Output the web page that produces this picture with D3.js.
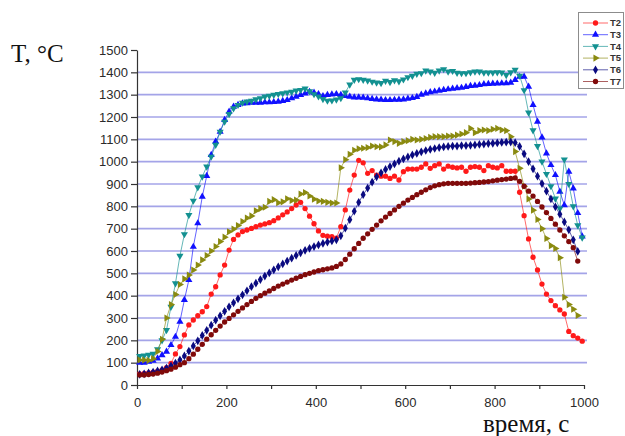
<!DOCTYPE html>
<html>
<head>
<meta charset="utf-8">
<script src="https://cdn.jsdelivr.net/npm/d3@7"></script>
<style>
  html, body { margin: 0; padding: 0; background: #fff; }
  svg { display: block; }
</style>
</head>
<body>
<svg id="chart" width="625" height="436"></svg>
<script>
// Sample times, s
const time = [
  6, 16, 26, 36, 46, 56, 66, 76, 86, 96,
  106, 116, 126, 136, 146, 156, 166, 176, 186, 196,
  206, 216, 226, 236, 246, 256, 266, 276, 286, 296,
  306, 316, 326, 336, 346, 356, 366, 376, 386, 396,
  406, 416, 426, 436, 446, 456, 466, 476, 486, 496,
  506, 516, 526, 536, 546, 556, 566, 576, 586, 596,
  606, 616, 626, 636, 646, 656, 666, 676, 686, 696,
  706, 716, 726, 736, 746, 756, 766, 776, 786, 796,
  806, 816, 826, 836, 846, 856, 866, 876, 886, 896,
  906, 916, 926, 936, 946, 956, 966, 976, 986, 996
];

// Thermocouple readings, °C
const T2 = [
  50, 52, 54, 57, 62, 68, 78, 97, 139, 172,
  224, 269, 291, 310, 328, 351, 407, 440, 493, 537,
  604, 652, 672, 687, 694, 701, 709, 716, 721, 727,
  736, 748, 762, 775, 790, 806, 818, 790, 756, 722,
  690, 670, 666, 664, 658, 709, 784, 873, 940, 1006,
  995, 948, 960, 940, 935, 935, 925, 935, 918, 955,
  967, 967, 967, 975, 990, 970, 982, 990, 967, 980,
  975, 972, 975, 957, 975, 978, 975, 960, 982, 975,
  972, 982, 957, 957, 957, 863, 758, 654, 572, 515,
  452, 407, 378, 355, 336, 318, 240, 221, 210, 196
];
const T3 = [
  100, 100, 104, 109, 119, 134, 149, 179, 216, 284,
  381, 470, 619, 724, 843, 936, 1030, 1090, 1134, 1187,
  1224, 1246, 1254, 1261, 1262, 1264, 1264, 1264, 1266, 1266,
  1267, 1269, 1272, 1276, 1284, 1291, 1299, 1306, 1313, 1309,
  1303, 1294, 1299, 1301, 1303, 1299, 1294, 1291, 1288, 1288,
  1287, 1284, 1281, 1279, 1278, 1276, 1276, 1277, 1278, 1279,
  1282, 1285, 1290, 1300, 1306, 1311, 1314, 1318, 1321, 1324,
  1327, 1329, 1331, 1335, 1339, 1340, 1343, 1347, 1348, 1349,
  1350, 1351, 1351, 1354, 1366, 1380, 1381, 1336, 1254, 1179,
  1109, 1037, 985, 940, 866, 805, 955, 880, 770, 665
];
const T4 = [
  130, 132, 135, 140, 160, 200, 246, 350, 455, 578,
  675, 761, 825, 885, 933, 978, 1022, 1075, 1134, 1179,
  1213, 1239, 1254, 1264, 1269, 1272, 1279, 1284, 1291, 1295,
  1299, 1303, 1306, 1310, 1313, 1318, 1321, 1327, 1315, 1302,
  1292, 1280, 1273, 1274, 1278, 1284, 1310, 1345, 1366, 1369,
  1366, 1363, 1358, 1354, 1352, 1362, 1356, 1364, 1360, 1368,
  1378, 1384, 1393, 1396, 1408, 1403, 1398, 1408, 1414, 1403,
  1406, 1398, 1396, 1396, 1400, 1403, 1403, 1399, 1399, 1399,
  1400, 1399, 1388, 1400, 1411, 1385, 1320, 1220, 1140, 1070,
  1000, 945, 890, 835, 790, 1010, 900, 800, 715, 660
];
const T5 = [
  112, 112, 110, 118, 150, 205, 300, 360, 405, 450,
  475, 492, 515, 537, 560, 580, 600, 620, 642, 662,
  686, 698, 714, 732, 748, 757, 780, 790, 796, 822,
  830, 816, 820, 834, 826, 828, 855, 862, 846, 832,
  824, 822, 818, 815, 815, 973, 1009, 1033, 1051, 1058,
  1060, 1063, 1070, 1067, 1066, 1075, 1097, 1090, 1082, 1090,
  1094, 1100, 1097, 1100, 1104, 1109, 1112, 1112, 1112, 1115,
  1115, 1119, 1124, 1130, 1149, 1130, 1139, 1142, 1139, 1145,
  1149, 1142, 1139, 1112, 1045, 970, 890, 833, 783, 741,
  700, 656, 624, 611, 570, 393, 360, 339, 311
];
const T6 = [
  48, 50, 54, 58, 63, 68, 76, 86, 98, 112,
  130, 152, 175, 198, 222, 245, 268, 290, 310, 330,
  350, 368, 386, 404, 422, 440, 456, 472, 488, 502,
  516, 529, 542, 555, 568, 580, 592, 603, 612, 620,
  627, 634, 640, 645, 650, 668, 702, 740, 778, 818,
  852, 882, 908, 932, 950, 965, 978, 990, 1002, 1012,
  1021, 1030, 1037, 1044, 1050, 1055, 1059, 1063, 1066, 1068,
  1070, 1070, 1072, 1072, 1073, 1075, 1077, 1079, 1081, 1082,
  1084, 1086, 1087, 1088, 1085, 1068, 1035, 1000, 968, 935,
  902, 868, 833, 798, 765, 730, 695, 650, 598
];
const T7 = [
  45, 45, 47, 49, 53, 58, 64, 71, 80, 91,
  100, 118, 138, 160, 182, 205, 225, 245, 264, 282,
  298, 314, 330, 345, 360, 374, 388, 400, 411, 421,
  432, 443, 452, 461, 470, 478, 486, 494, 500, 506,
  512, 516, 520, 524, 531, 542, 562, 586, 610, 634,
  657, 677, 697, 716, 735, 752, 768, 784, 800, 814,
  828, 840, 852, 863, 874, 884, 892, 897, 901, 903,
  903, 903, 903, 903, 904, 906, 907, 909, 911, 914,
  917, 920, 922, 925, 927, 912, 890, 868, 846, 822,
  797, 772, 746, 720, 694, 668, 642, 615, 555
];

const seriesNames = ["T2", "T3", "T4", "T5", "T6", "T7"];
const seriesValues = [T2, T3, T4, T5, T6, T7];
const seriesColors = ["#ff1a1a", "#1010ff", "#139191", "#8a8a10", "#0a0a80", "#800a0a"];
const seriesShapes = ["circle", "triUp", "triDown", "triRight", "diamond", "circle"];

const yTicks = d3.range(0, 1501, 100);
const xTicks = d3.range(0, 1001, 100);
const gridValues = d3.range(100, 1401, 100);

const svg = d3.select("#chart");
const x = d3.scaleLinear().domain([0, 1000]).range([137, 584]);
const y = d3.scaleLinear().domain([0, 1500]).range([385, 50]);

// horizontal grid
svg.append("g")
  .selectAll("line")
  .data(gridValues)
  .join("line")
  .attr("x1", x(0)).attr("x2", x(1000) + 3)
  .attr("y1", d => y(d)).attr("y2", d => y(d))
  .attr("stroke", "#a4a4e8")
  .attr("stroke-width", 1.6);

// axes
const axisFont = "'Liberation Sans', Arial, sans-serif";
const yAxis = svg.append("g")
  .attr("transform", `translate(${x(0)},0)`)
  .call(d3.axisLeft(y).tickValues(yTicks).tickSize(6).tickSizeOuter(0).tickPadding(3)
    .tickFormat(d3.format("d")));
const xAxis = svg.append("g")
  .attr("transform", `translate(0,${y(0)})`)
  .call(d3.axisBottom(x).tickValues(xTicks).tickSize(4).tickSizeOuter(0).tickPadding(9)
    .tickFormat(d => d % 200 === 0 ? String(d) : ""));
[yAxis, xAxis].forEach(g => {
  g.select(".domain").attr("stroke", "#333").attr("stroke-width", 1.2);
  g.selectAll(".tick line").attr("stroke", "#333").attr("stroke-width", 1.2);
  g.selectAll(".tick text")
    .attr("fill", "#2a2a2a")
    .style("font-family", axisFont)
    .style("font-size", "13px");
});

// marker shapes
function symbolFor(shape) {
  switch (shape) {
    case "circle": return { type: d3.symbolCircle, size: 22, rot: 0 };
    case "triUp": return { type: d3.symbolTriangle, size: 22, rot: 0 };
    case "triDown": return { type: d3.symbolTriangle, size: 22, rot: 180 };
    case "triRight": return { type: d3.symbolTriangle, size: 22, rot: 90 };
    case "diamond": return { type: d3.symbolDiamond, size: 22, rot: 0 };
  }
}

const line = d3.line()
  .x((d, i) => x(time[i]))
  .y(d => y(d));

seriesValues.forEach((vals, k) => {
  const g = svg.append("g");
  const color = seriesColors[k];
  g.append("path")
    .datum(vals)
    .attr("d", line)
    .attr("fill", "none")
    .attr("stroke", color)
    .attr("stroke-opacity", 0.65)
    .attr("stroke-width", 1);
  const s = symbolFor(seriesShapes[k]);
  const path = d3.symbol().type(s.type).size(s.size)();
  g.selectAll("path.m")
    .data(vals)
    .join("path")
    .attr("class", "m")
    .attr("d", path)
    .attr("fill", color)
    .attr("transform", (d, i) => `translate(${x(time[i])},${y(d)}) rotate(${s.rot})`);
});

// legend
const legend = svg.append("g");
legend.append("rect")
  .attr("x", 578.5).attr("y", 12.5)
  .attr("width", 45).attr("height", 76)
  .attr("fill", "#fff")
  .attr("stroke", "#8c8c8c")
  .attr("stroke-width", 1);
seriesNames.forEach((name, k) => {
  const ly = 23 + k * 11.7;
  const color = seriesColors[k];
  legend.append("line")
    .attr("x1", 583).attr("x2", 608)
    .attr("y1", ly).attr("y2", ly)
    .attr("stroke", color).attr("stroke-opacity", 0.65).attr("stroke-width", 1);
  const s = symbolFor(seriesShapes[k]);
  legend.append("path")
    .attr("d", d3.symbol().type(s.type).size(s.size)())
    .attr("fill", color)
    .attr("transform", `translate(595.5,${ly}) rotate(${s.rot})`);
  legend.append("text")
    .attr("x", 610).attr("y", ly)
    .attr("dy", "0.35em")
    .attr("fill", "#333")
    .style("font-family", axisFont)
    .style("font-size", "9.5px")
    .style("font-weight", "bold")
    .text(name);
});

// axis titles
const serif = "'Liberation Serif', 'Times New Roman', serif";
svg.append("text")
  .attr("x", 11).attr("y", 62)
  .style("font-family", serif)
  .style("font-size", "25px")
  .attr("fill", "#111")
  .text("T, °C");
svg.append("text")
  .attr("x", 483).attr("y", 432)
  .style("font-family", serif)
  .style("font-size", "25px")
  .attr("fill", "#111")
  .text("время, с");
</script>
</body>
</html>
